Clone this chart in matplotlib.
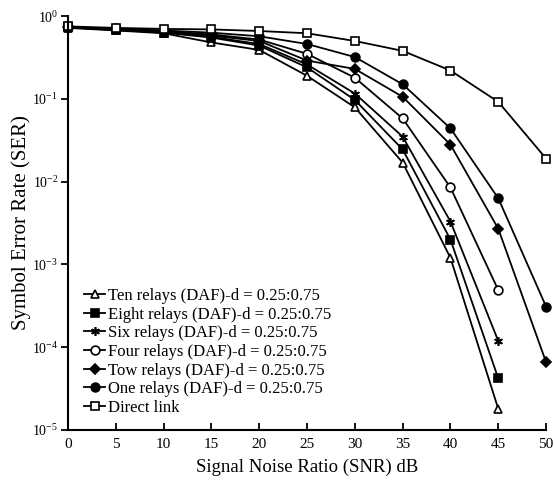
#!/usr/bin/env python3

import numpy as np
import matplotlib
matplotlib.use('Agg')
import matplotlib.pyplot as plt

plt.rcParams['font.family'] = ['Liberation Serif', 'DejaVu Serif']
plt.rcParams['mathtext.fontset'] = 'stix'

snr = [0, 5, 10, 15, 20, 25, 30, 35, 40, 45, 50]

# SER values
ten_relays = [0.72, 0.67, 0.62, 0.48, 0.39, 0.19, 0.079, 0.017, 0.0012, 1.8e-5]
eight_relays = [0.73, 0.68, 0.63, 0.55, 0.44, 0.24, 0.097, 0.0245, 0.0020, 4.2e-5]
six_relays = [0.73, 0.68, 0.64, 0.56, 0.46, 0.26, 0.116, 0.035, 0.0033, 1.19e-4]
four_relays = [0.74, 0.69, 0.66, 0.60, 0.52, 0.35, 0.18, 0.058, 0.0085, 4.9e-4]
tow_relays = [0.74, 0.69, 0.65, 0.58, 0.50, 0.29, 0.23, 0.106, 0.028, 0.0027, 6.6e-5]
one_relays = [0.74, 0.70, 0.67, 0.63, 0.57, 0.46, 0.32, 0.15, 0.044, 0.0063, 3.1e-4]
direct_link = [0.75, 0.72, 0.70, 0.69, 0.66, 0.62, 0.50, 0.38, 0.22, 0.092, 0.019]

series = [
    ('Ten relays (DAF)-d = 0.25:0.75', ten_relays, '^', 'white'),
    ('Eight relays (DAF)-d = 0.25:0.75', eight_relays, 's', 'black'),
    ('Six relays (DAF)-d = 0.25:0.75', six_relays, (6, 2, 0), 'black'),
    ('Four relays (DAF)-d = 0.25:0.75', four_relays, 'o', 'white'),
    ('Tow relays (DAF)-d = 0.25:0.75', tow_relays, 'D', 'black'),
    ('One relays (DAF)-d = 0.25:0.75', one_relays, 'o', 'black'),
    ('Direct link', direct_link, 's', 'white'),
]

fig = plt.figure(figsize=(5.54, 4.87), dpi=100)
ax = fig.add_axes([0.1227, 0.117, 0.863, 0.85])

for label, vals, marker, face in series:
    ms = 6.3
    if marker == 'D':
        ms = 5
    elif marker == '^':
        ms = 6
    ax.plot(snr[:len(vals)], vals, color='black', lw=1.3, marker=marker,
            ms=ms, mfc=face, mec='black', mew=1.2, label=label, clip_on=False)

ax.set_yscale('log')
ax.set_xlim(0, 50)
ax.set_ylim(1e-5, 1)
ax.set_xticks(range(0, 51, 5))
ax.yaxis.set_minor_locator(matplotlib.ticker.NullLocator())

ax.spines['top'].set_visible(False)
ax.spines['right'].set_visible(False)
ax.spines['left'].set_linewidth(1.5)
ax.spines['bottom'].set_linewidth(1.5)
ax.tick_params(axis='x', direction='in', length=5, width=1.3, labelsize=11, pad=6)
ax.tick_params(axis='y', direction='out', length=5, width=1.3, labelsize=10, pad=2)

ax.set_xlabel('Signal Noise Ratio (SNR) dB', fontsize=13.5, labelpad=5)
ax.set_ylabel('Symbol Error Rate (SER)', fontsize=15)
ax.yaxis.set_label_coords(-0.077, 0.5)

ax.legend(loc='lower left', bbox_to_anchor=(0.012, 0.01), frameon=False,
          fontsize=12, handlelength=1.3, handletextpad=0.15,
          labelspacing=0.16, borderaxespad=0.2)

fig.savefig('out.png', dpi=100)
